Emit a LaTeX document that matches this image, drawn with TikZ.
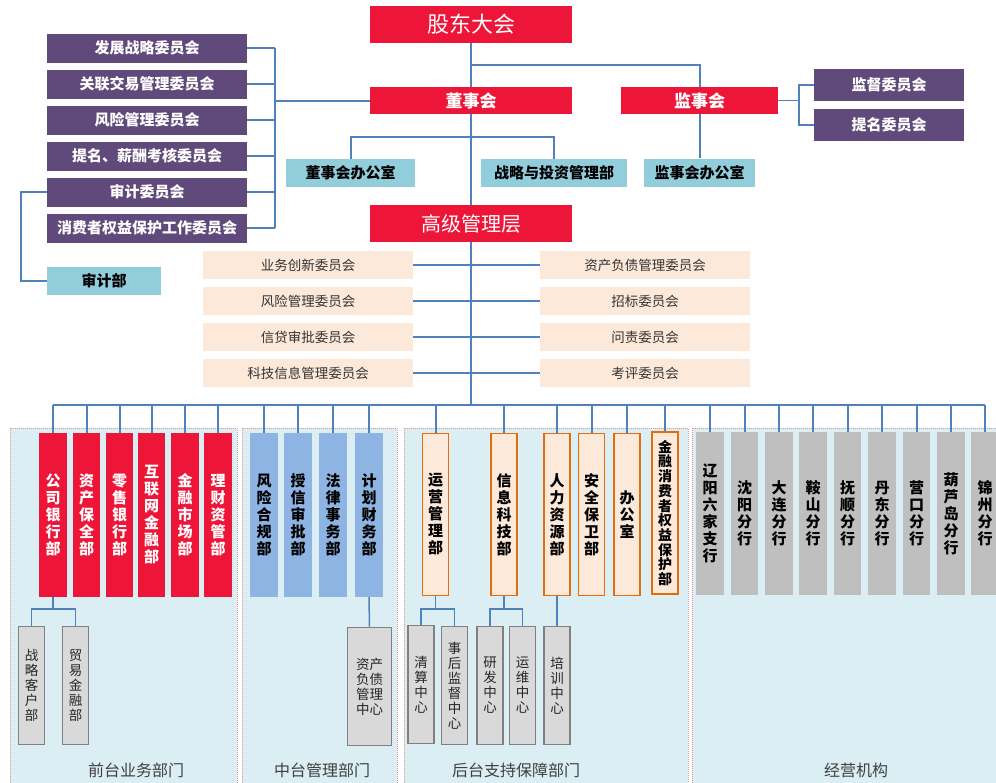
\documentclass[tikz,border=0pt]{standalone}
\usepackage{fontspec}
\setmainfont{Noto Sans CJK SC}
\definecolor{cred}{RGB}{237,22,56}
\definecolor{cpur}{RGB}{96,74,123}
\definecolor{cltb}{RGB}{146,205,220}
\definecolor{cbeige}{RGB}{253,233,217}
\definecolor{cline}{RGB}{79,129,189}
\definecolor{csec}{RGB}{218,238,243}
\definecolor{csecb}{RGB}{230,150,150}
\definecolor{cmid}{RGB}{141,180,226}
\definecolor{corg}{RGB}{228,108,10}
\definecolor{csub}{RGB}{217,217,217}
\definecolor{csubb}{RGB}{128,128,128}
\definecolor{cops}{RGB}{191,191,191}
\tikzset{
  bx/.style={inner sep=0pt, align=center, anchor=center},
  redbox/.style={bx, fill=cred, text=white},
  purbox/.style={bx, fill=cpur, text=white, minimum width=200pt, minimum height=29pt, font=\bfseries\fontsize{15}{18}\selectfont},
  ltbbox/.style={bx, fill=cltb, text=black, minimum height=28pt, font=\bfseries\fontsize{15}{18}\selectfont},
  beigebox/.style={bx, fill=cbeige, text=black!80, minimum width=210pt, minimum height=28pt, font=\fontsize{13.5}{16}\selectfont},
  vcol/.style={bx, minimum width=27.5pt, minimum height=164pt, font=\bfseries\fontsize{15}{17}\selectfont},
  frontbox/.style={vcol, fill=cred, text=white},
  midbox/.style={vcol, fill=cmid, text=black},
  backbox/.style={vcol, fill=cbeige, draw=corg, line width=1.5pt, text=black, minimum width=26pt, minimum height=162pt},
  opsbox/.style={vcol, fill=cops, text=black, minimum height=163pt},
  subbox/.style={bx, fill=csub, draw=csubb, line width=1.6pt, minimum width=26pt, minimum height=118pt, font=\fontsize{13.5}{15}\selectfont, text=black!85},
  conn/.style={draw=cline, line width=2pt},
  thinconn/.style={draw=cline, line width=1.1pt},
  secbg/.style={fill=csec, draw=csecb, densely dotted, line width=1pt},
  seclabel/.style={font=\fontsize{16}{18}\selectfont, text=black!75, inner sep=0pt}
}
\begin{document}
\begin{tikzpicture}[x=1pt,y=-1pt]
\useasboundingbox (0,0) rectangle (996,782);
\clip (0,0) rectangle (996,782);
% sections
\path[secbg] (10,428) rectangle (237,800);
\path[secbg] (242,428) rectangle (397,800);
\path[secbg] (404,428) rectangle (688,800);
\path[secbg] (692,428) rectangle (1010,800);
\node[seclabel] (l1) at (136,770) {前台业务部门};
\node[seclabel] (l2) at (322,770) {中台管理部门};
\node[seclabel] (l3) at (516,770) {后台支持保障部门};
\node[seclabel] (l4) at (856,770) {经营机构};

% top
\node[redbox, minimum width=202pt, minimum height=37pt, font=\fontsize{22}{24}\selectfont] (gd) at (471,24.5) {股东大会};
\node[redbox, minimum width=202pt, minimum height=27pt, font=\bfseries\fontsize{17}{20}\selectfont] (dsh) at (471,100.5) {董事会};
\node[redbox, minimum width=157pt, minimum height=27pt, font=\bfseries\fontsize{17}{20}\selectfont] (jsh) at (699.5,100.5) {监事会};
\node[redbox, minimum width=202pt, minimum height=37pt, font=\fontsize{20}{22}\selectfont] (gg) at (471,223.5) {高级管理层};

\node[purbox] (c1) at (147,48) {发展战略委员会};
\node[purbox] (c2) at (147,84) {关联交易管理委员会};
\node[purbox] (c3) at (147,120) {风险管理委员会};
\node[purbox] (c4) at (147,156) {提名、薪酬考核委员会};
\node[purbox] (c5) at (147,192) {审计委员会};
\node[purbox] (c6) at (147,228) {消费者权益保护工作委员会};

\node[ltbbox, minimum width=114pt] (sjb) at (104,281) {审计部};
\node[ltbbox, minimum width=129pt] (dsbg) at (350.5,173) {董事会办公室};
\node[ltbbox, minimum width=146pt] (zltz) at (554,173) {战略与投资管理部};
\node[ltbbox, minimum width=111pt] (jsbg) at (699.5,172.5) {监事会办公室};

\node[purbox, minimum width=150pt, minimum height=32pt] (jdwy) at (889,85) {监督委员会};
\node[purbox, minimum width=150pt, minimum height=32pt] (tmwy) at (889,125) {提名委员会};

\node[beigebox] (b1) at (308,265) {业务创新委员会};
\node[beigebox] (b2) at (308,301) {风险管理委员会};
\node[beigebox] (b3) at (308,337) {信贷审批委员会};
\node[beigebox] (b4) at (308,373) {科技信息管理委员会};
\node[beigebox] (r1) at (645,265) {资产负债管理委员会};
\node[beigebox] (r2) at (645,301) {招标委员会};
\node[beigebox] (r3) at (645,337) {问责委员会};
\node[beigebox] (r4) at (645,373) {考评委员会};

% front
\node[frontbox] (f1) at (53,515) {公\\司\\银\\行\\部};
\node[frontbox] (f2) at (86.5,515) {资\\产\\保\\全\\部};
\node[frontbox] (f3) at (119.5,515) {零\\售\\银\\行\\部};
\node[frontbox] (f4) at (151.5,515) {互\\联\\网\\金\\融\\部};
\node[frontbox] (f5) at (185,515) {金\\融\\市\\场\\部};
\node[frontbox] (f6) at (218,515) {理\\财\\资\\管\\部};
% mid
\node[midbox] (m1) at (264,515) {风\\险\\合\\规\\部};
\node[midbox] (m2) at (298,515) {授\\信\\审\\批\\部};
\node[midbox] (m3) at (333,515) {法\\律\\事\\务\\部};
\node[midbox] (m4) at (369,515) {计\\划\\财\\务\\部};
% back
\node[backbox] (k1) at (435.5,514.5) {运\\营\\管\\理\\部};
\node[backbox] (k2) at (504,514.5) {信\\息\\科\\技\\部};
\node[backbox] (k3) at (557,514.5) {人\\力\\资\\源\\部};
\node[backbox] (k4) at (591.5,514.5) {安\\全\\保\\卫\\部};
\node[backbox] (k5) at (627,514.5) {办\\公\\室};
\node[backbox, font=\bfseries\fontsize{14}{14.7}\selectfont] (k6) at (665,513) {金\\融\\消\\费\\者\\权\\益\\保\\护\\部};
% ops
\node[opsbox] (o1) at (710,513.5) {辽\\阳\\六\\家\\支\\行};
\node[opsbox] (o2) at (744.5,513.5) {沈\\阳\\分\\行};
\node[opsbox] (o3) at (779,513.5) {大\\连\\分\\行};
\node[opsbox] (o4) at (813,513.5) {鞍\\山\\分\\行};
\node[opsbox] (o5) at (847.5,513.5) {抚\\顺\\分\\行};
\node[opsbox] (o6) at (882,513.5) {丹\\东\\分\\行};
\node[opsbox] (o7) at (916.5,513.5) {营\\口\\分\\行};
\node[opsbox] (o8) at (951,513.5) {葫\\芦\\岛\\分\\行};
\node[opsbox] (o9) at (985,513.5) {锦\\州\\分\\行};
% subs
\node[subbox] (s1) at (31.5,685.5) {战\\略\\客\\户\\部};
\node[subbox] (s2) at (75.5,685.5) {贸\\易\\金\\融\\部};
\node[subbox, minimum width=44pt] (s3) at (369.5,686.5) {资产\\负债\\管理\\中心};
\node[subbox] (s4) at (421,684.5) {清\\算\\中\\心};
\node[subbox] (s5) at (454.5,685.5) {事\\后\\监\\督\\中\\心};
\node[subbox] (s6) at (490,685.5) {研\\发\\中\\心};
\node[subbox] (s7) at (522.5,685.5) {运\\维\\中\\心};
\node[subbox] (s8) at (557,685.5) {培\\训\\中\\心};

% connectors
\coordinate (j1) at (471,65);
\coordinate (j2) at (471,137);
\coordinate (j3) at (275,100.5);
\coordinate (j4) at (21,192);
\coordinate (j5) at (799,100.5);
\coordinate (bus) at (0,405);
\coordinate (sb) at (0,609);

\draw[conn] (gd.south) -- (dsh.north);
\draw[conn] (dsh.south) -- (gg.north);
\draw[conn] (j1) -| (jsh.north);
\draw[conn] (dsbg.north) |- (j2) -| (zltz.north);
\draw[conn] (jsh.south) -- (jsbg.north);
\foreach \c in {c1,c2,c3,c4,c5,c6} {\draw[thinconn] (\c.east) -- (\c.east -| j3);}
\draw[thinconn] (c1.east -| j3) -- (c6.east -| j3);
\draw[conn] (j3) -- (dsh.west);
\draw[thinconn] (c5.west) -- (j4) |- (sjb.west);
\draw[thinconn] (jsh.east) -- (j5);
\draw[thinconn] (jdwy.west) -| (j5) |- (tmwy.west);
\foreach \i in {1,2,3,4} {\draw[thinconn] (b\i.east) -- (r\i.west);}
\draw[conn] (gg.south) -- (gg.south |- bus);
\draw[conn] (f1.north |- bus) -- (o9.north |- bus);
\foreach \n in {f1,f2,f3,f4,f5,f6,m1,m2,m3,m4,k1,k2,k3,k4,k5,k6,o1,o2,o3,o4,o5,o6,o7,o8,o9} {\draw[conn] (\n.north) -- (\n.north |- bus);}
\draw[thinconn, line width=1.5pt] (f1.south) -- (f1.south |- sb);
\draw[thinconn, line width=1.5pt] (s1.north) |- (s2.north |- sb) -- (s2.north);
\draw[thinconn, line width=1.5pt] (k1.south) -- (k1.south |- sb);
\draw[thinconn, line width=1.5pt] (s4.north) |- (s5.north |- sb) -- (s5.north);
\draw[thinconn, line width=1.5pt] (k2.south) -- (k2.south |- sb);
\draw[thinconn, line width=1.5pt] (s6.north) |- (s7.north |- sb) -- (s7.north);
\draw[thinconn, line width=1.5pt] (k3.south) -- (s8.north);
\draw[thinconn, line width=1.5pt] (m4.south) -- (s3.north);
\end{tikzpicture}
\end{document}
